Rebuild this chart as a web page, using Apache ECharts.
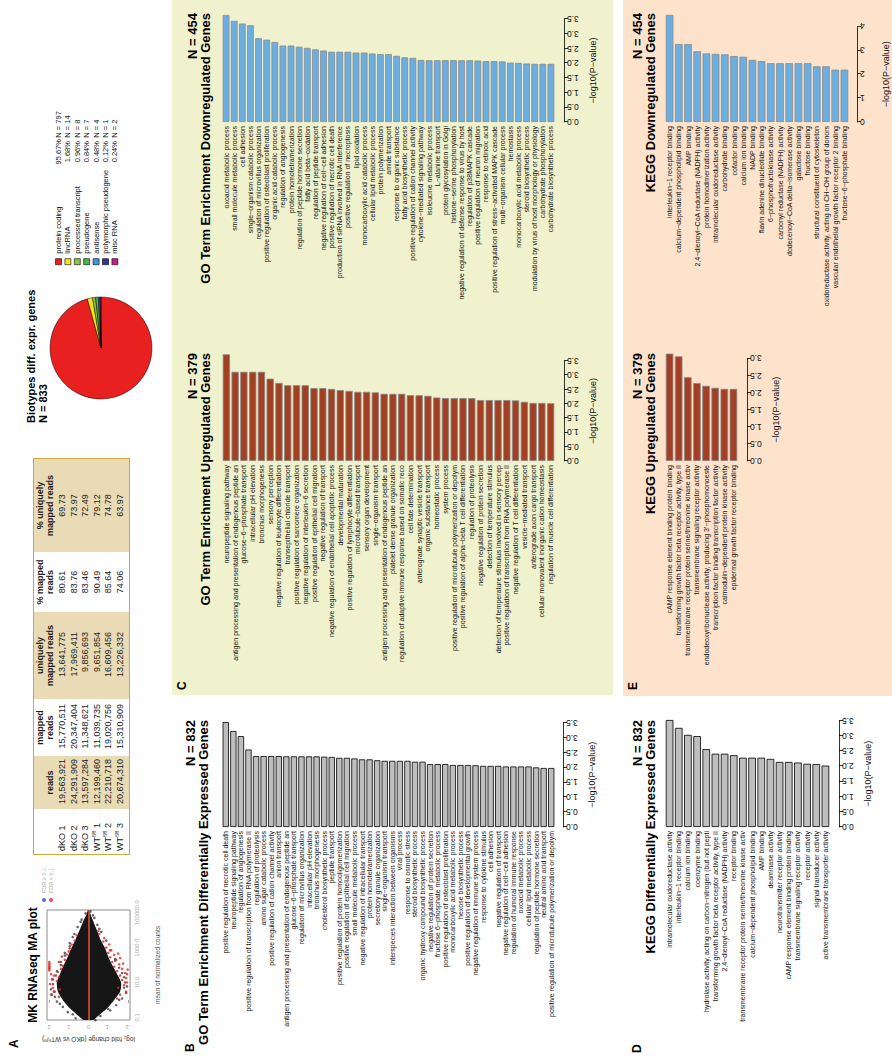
<!DOCTYPE html>
<html><head><meta charset="utf-8">
<script src="https://cdn.jsdelivr.net/npm/echarts@6/dist/echarts.min.js"></script>
<style>
html,body{margin:0;padding:0;background:#fff;overflow:hidden;width:892px;height:1062px;}
#fig{position:absolute;left:0;top:0;width:1062px;height:892px;transform-origin:0 0;transform:translate(0px,1062px) rotate(-90deg);font-family:'Liberation Sans',Arial,Helvetica,sans-serif;background:#fff;}
#chart{position:absolute;left:0;top:0;width:1062px;height:892px;}
#tbl{position:absolute;left:207px;top:33px;border-collapse:separate;border-spacing:0;border:1.5px solid #d0a93c;font:9px 'Liberation Sans',Arial,sans-serif;color:#1a1a1a;z-index:5;}
#tbl td{padding:0;height:11.5px;line-height:11.5px;white-space:nowrap;}
#tbl th{font-weight:bold;line-height:9.5px;vertical-align:bottom;padding:2px 0 2px;text-align:center;white-space:nowrap;}
#tbl .tan{background:#e9dbb6;}
#tbl .wh{background:#fff;}
#tbl sup{font-size:5px;line-height:0;}
</style></head>
<body>
<div id="fig"><div id="chart"></div><table id="tbl"></table></div>
<script>
// ---------------- DATA ----------------
const bNames = ['positive regulation of necrotic cell death','neuropeptide signaling pathway','regulation of angiogenesis','positive regulation of transcription from RNA polymerase II','regulation of proteolysis','amino sugar catabolic process','positive regulation of cation channel activity','anion transport','antigen processing and presentation of endogenous peptide an','glucose−6−phosphate transport','regulation of microvillus organization','intracellular pH elevation','bronchus morphogenesis','cholesterol biosynthetic process','peptide transport','positive regulation of protein homooligomerization','positive regulation of epithelial cell migration','small molecule metabolic process','negative regulation of intracellular transport','protein homotetramerization','secretory granule organization','single−organism transport','interspecies interaction between organisms','viral process','response to osmotic stress','steroid biosynthetic process','organic hydroxy compound biosynthetic process','negative regulation of protein secretion','fructose 6−phosphate metabolic process','positive regulation of osteoblast proliferation','monocarboxylic acid metabolic process','hexose biosynthetic process','positive regulation of developmental growth','negative regulation of immune system process','response to cytokine stimulus','cell adhesion','negative regulation of transport','negative regulation of cell−cell adhesion','regulation of humoral immune response','oxoacid metabolic process','cellular lipid metabolic process','regulation of peptide hormone secretion','neutral amino acid transport','positive regulation of microtubule polymerization or depolym'];
const bValues = [3.52,3.22,3.05,2.60,2.38,2.38,2.38,2.38,2.37,2.37,2.37,2.37,2.37,2.36,2.35,2.32,2.32,2.30,2.27,2.27,2.24,2.22,2.22,2.22,2.22,2.19,2.19,2.11,2.11,2.11,2.08,2.08,2.08,2.07,2.05,2.05,2.05,2.03,2.03,2.03,2.03,2.00,1.98,1.98];

const cUpNames = ['neuropeptide signaling pathway','antigen processing and presentation of endogenous peptide an','glucose−6−phosphate transport','intracellular pH elevation','bronchus morphogenesis','sensory perception','negative regulation of leukocyte differentiation','transepithelial chloride transport','positive regulation of sarcomere organization','negative regulation of interleukin−6 secretion','positive regulation of epithelial cell migration','negative regulation of transport','negative regulation of endothelial cell apoptotic process','developmental maturation','positive regulation of lymphocyte differentiation','microtubule−based transport','sensory organ development','single−organism transport','antigen processing and presentation of endogenous peptide an','platelet dense granule organization','regulation of adaptive immune response based on somatic reco','cell fate determination','anterograde synaptic vesicle transport','organic substance transport','homeostatic process','system process','positive regulation of microtubule polymerization or depolym','positive regulation of alpha−beta T cell differentiation','regulation of proteolysis','negative regulation of protein secretion','detection of temperature stimulus','detection of temperature stimulus involved in sensory percep','positive regulation of transcription from RNA polymerase II','negative regulation of T cell differentiation','vesicle−mediated transport','anterograde axon cargo transport','cellular monovalent inorganic cation homeostasis','regulation of muscle cell differentiation'];
const cUpValues = [3.73,3.12,3.12,3.12,3.12,2.88,2.73,2.65,2.65,2.65,2.55,2.55,2.52,2.48,2.45,2.42,2.42,2.40,2.35,2.35,2.35,2.30,2.30,2.28,2.22,2.20,2.20,2.20,2.20,2.13,2.13,2.13,2.13,2.12,2.07,2.03,2.03,2.02];

const cDownNames = ['oxoacid metabolic process','small molecule metabolic process','cell adhesion','single−organism catabolic process','regulation of microvillus organization','positive regulation of osteoblast proliferation','organic acid catabolic process','regulation of angiogenesis','protein homotetramerization','regulation of peptide hormone secretion','fatty acid beta−oxidation','regulation of peptide transport','negative regulation of cell−cell adhesion','positive regulation of necrotic cell death','production of siRNA involved in RNA interference','positive regulation of necroptosis','lipid oxidation','monocarboxylic acid catabolic process','cellular lipid metabolic process','protein polymerization','amide transport','response to organic substance','fatty acid biosynthetic process','positive regulation of cation channel activity','cytokine−mediated signaling pathway','isoleucine metabolic process','L−alanine transport','protein glycosylation in Golgi','histone−serine phosphorylation','negative regulation of defense response to virus by host','regulation of p38MAPK cascade','positive regulation of neuron migration','response to retinoic acid','positive regulation of stress−activated MAPK cascade','multi−organism cellular process','hemostasis','monocarboxylic acid metabolic process','steroid biosynthetic process','modulation by virus of host morphology or physiology','carbohydrate phosphorylation','carbohydrate biosynthetic process'];
const cDownValues = [3.64,3.44,3.35,3.29,2.85,2.80,2.72,2.60,2.60,2.56,2.52,2.47,2.43,2.39,2.39,2.39,2.36,2.36,2.33,2.31,2.31,2.25,2.20,2.18,2.11,2.10,2.10,2.10,2.10,2.10,2.10,2.09,2.07,2.07,2.06,2.02,2.01,1.99,1.98,1.98,1.98];

const dNames = ['intramolecular oxidoreductase activity','interleukin−1 receptor binding','calcium ion binding','coenzyme binding','hydrolase activity, acting on carbon−nitrogen (but not pepti','transforming growth factor beta receptor activity, type II','2,4−dienoyl−CoA reductase (NADPH) activity','receptor binding','transmembrane receptor protein serine/threonine kinase activ','calcium−dependent phospholipid binding','AMP binding','deaminase activity','neurotransmitter receptor activity','cAMP response element binding protein binding','transmembrane signaling receptor activity','receptor activity','signal transducer activity','active transmembrane transporter activity'];
const dValues = [3.52,3.26,3.03,2.99,2.56,2.41,2.41,2.36,2.28,2.28,2.28,2.24,2.14,2.14,2.12,2.08,2.07,2.02];

const eUpNames = ['cAMP response element binding protein binding','transforming growth factor beta receptor activity, type II','transmembrane receptor protein serine/threonine kinase activ','transmembrane signaling receptor activity','endodeoxyribonuclease activity, producing 3\'−phosphomonoeste','transcription factor binding transcription factor activity','calmodulin−dependent protein kinase activity','epidermal growth factor receptor binding'];
const eUpValues = [3.14,3.06,2.45,2.28,2.20,2.14,2.11,2.11];

const eDownNames = ['interleukin−1 receptor binding','calcium−dependent phospholipid binding','AMP binding','2,4−dienoyl−CoA reductase (NADPH) activity','protein homodimerization activity','intramolecular oxidoreductase activity','carbohydrate binding','cofactor binding','calcium ion binding','NADP binding','flavin adenine dinucleotide binding','6−phosphofructokinase activity','carbonyl reductase (NADPH) activity','dodecenoyl−CoA delta−isomerase activity','galactose binding','fructose binding','structural constituent of cytoskeleton','oxidoreductase activity, acting on CH−OH group of donors','vascular endothelial growth factor receptor 2 binding','fructose−6−phosphate binding'];
const eDownValues = [4.48,3.26,3.26,2.96,2.87,2.85,2.83,2.76,2.73,2.60,2.55,2.46,2.46,2.46,2.46,2.46,2.33,2.33,2.19,2.19];

const pieNames = ['protein coding','lincRNA','processed transcript','pseudogene','antisense','polymorphic pseudogene','misc RNA'];
const pieCounts = [797,14,8,7,4,1,2];
const piePercents = ['95.67%','1.68%','0.96%','0.84%','0.48%','0.12%','0.24%'];

const tblHeaders = ['', 'reads', 'mapped<br>reads', 'uniquely<br>mapped reads', '% mapped<br>reads', '% uniquely<br>mapped reads'];
const tblGroup = ['dKO','dKO','dKO','WT','WT','WT'];
const tblRep = [1,2,3,1,2,3];
const tblReads = ['19,563,921','24,291,909','13,597,284','12,199,460','22,210,718','20,674,310'];
const tblMapped = ['15,770,511','20,347,404','11,348,621','11,039,735','19,020,756','15,310,909'];
const tblUnique = ['13,641,775','17,969,411','9,856,693','9,651,854','16,609,456','13,226,332'];
const tblPctMapped = ['80.61','83.76','83.46','90.49','85.64','74.06'];
const tblPctUnique = ['69.73','73.97','72.49','79.12','74.78','63.97'];

// MA plot: envelope of the dense (non-significant) cloud, plus scattered points
const maEnvMean  = [0.06,0.1,0.3,1,3,10,30,100,300,1000,3000,10000,30000,80000,150000];
const maEnvUpper = [0.15,0.42,0.9,1.3,1.55,1.6,1.45,1.25,1.05,0.85,0.65,0.45,0.28,0.1,0.02];
const maEnvLower = [-0.15,-0.4,-0.9,-1.3,-1.6,-1.65,-1.45,-1.2,-1.0,-0.82,-0.6,-0.42,-0.25,-0.1,-0.02];
const maBlackPts = [[0.06,0.3],[0.07,-0.35],[0.09,0.65],[0.12,-0.6],[0.15,0.8],[0.2,1.05],[0.25,-1.1],[0.3,-1.0],[0.4,1.3],[0.5,-1.4],[0.6,1.45],[0.8,1.6],[1,-1.55],[1.2,-1.7],[1.5,1.7],[2,1.85],[2.5,-1.9],[3,1.75],[4,1.9],[5,-1.8],[6,-1.95],[8,1.8],[10,-1.85],[15,1.8],[20,-1.8],[25,1.65],[35,-1.7],[45,1.6],[70,-1.55],[100,1.4],[150,1.4],[180,-1.35],[220,-1.35],[350,1.2],[500,1.2],[700,-1.1],[1200,0.95],[1800,0.95],[2500,-0.9],[4000,0.8],[6000,0.72],[8000,-0.65],[12000,-0.55],[15000,0.55],[20000,-0.45],[30000,0.4],[40000,0.35],[50000,-0.3],[70000,-0.22],[90000,0.15],[120000,-0.1],[160000,0.04]];
const maRedPts = [[1.5,1.5],[2,1.9],[3,1.7],[4,1.45],[5,1.8],[8,1.95],[12,1.6],[15,1.85],[20,1.5],[25,1.75],[30,1.9],[40,1.55],[50,1.98],[60,1.98],[70,1.98],[80,1.98],[100,1.98],[120,1.98],[150,1.98],[60,1.4],[90,1.3],[150,1.5],[200,1.2],[300,1.35],[400,1.1],[600,1.0],[900,0.95],[1500,0.85],[2500,0.7],[5000,0.6],
  [1.2,-1.45],[2,-1.6],[3,-1.9],[5,-1.5],[7,-1.8],[10,-1.95],[14,-1.7],[18,-1.9],[25,-1.6],[30,-1.95],[35,-1.85],[45,-1.45],[55,-1.98],[60,-1.7],[80,-1.3],[110,-1.55],[120,-1.75],[150,-1.2],[200,-1.4],[250,-1.6],[280,-1.1],[380,-1.3],[450,-1.5],[500,-1.0],[700,-1.15],[1000,-0.9],[1500,-1.05],[2200,-0.75],[3500,-0.8],[6000,-0.55],[9000,-0.5]];
const maXTicks = [-1,1,3,5];
const maYTicks = [-2,-1,0,1,2];

// ---------------- STYLE / LAYOUT ----------------
const FONT = "'Liberation Sans', Arial, Helvetica, sans-serif";
const pieColors = ['#e8201f','#f6e31a','#8cc63f','#4fb54a','#3d9ad8','#2b3b91','#c4208c'];
const grids=[], xAxes=[], yAxes=[], series=[], graphics=[];

function txt(x,y,text,size,bold,align,color){
  graphics.push({type:'text', x:x, y:y, z:50, silent:true,
    style:{text:text, font:(bold?'bold ':'')+size+'px '+FONT, fill:color||'#000', align:align||'left', verticalAlign:'middle'}});
}

function barPanel(p){
  const vmax = Math.max(...p.values);
  grids.push({left:p.baseX, top:p.top, width:vmax*p.unit, height:p.bottom-p.top});
  let gi = grids.length-1;
  xAxes.push({gridIndex:gi, type:'value', min:0, max:vmax, show:false, splitLine:{show:false}});
  yAxes.push({gridIndex:gi, type:'category', data:p.names, inverse:true,
    axisLine:{show:false}, axisTick:{show:false}, splitLine:{show:false},
    axisLabel:{interval:0, fontSize:7, fontFamily:FONT, color:'#111', margin:4}});
  series.push({type:'bar', xAxisIndex:xAxes.length-1, yAxisIndex:yAxes.length-1, data:p.values,
    barCategoryGap:'17%', silent:true,
    itemStyle:{color:p.color, borderColor:p.border, borderWidth:0.8}});
  // value axis drawn only over the tick range (as in R)
  grids.push({left:p.baseX, top:p.axisY-1, width:p.axisMax*p.unit, height:1});
  gi = grids.length-1;
  xAxes.push({gridIndex:gi, type:'value', min:0, max:p.axisMax, interval:p.step, position:'bottom',
    axisLine:{show:true, lineStyle:{color:'#000', width:0.8}},
    axisTick:{show:true, length:4, lineStyle:{color:'#000', width:0.8}},
    splitLine:{show:false},
    axisLabel:{rotate:90, fontSize:8.5, fontFamily:FONT, color:'#111', margin:3, formatter:v=>v.toFixed(p.dec)},
    name:'−log10(P−value)', nameLocation:'middle', nameGap:24,
    nameTextStyle:{fontSize:9, fontFamily:FONT, color:'#111'}});
  yAxes.push({gridIndex:gi, type:'value', show:false});
  txt(p.titleRight, p.titleY, p.nLabel, 13, true, 'right');
  txt(p.titleRight, p.titleY+13, p.title, 13, true, 'right');
}

// panel backgrounds
graphics.push({type:'rect', z:-10, silent:true, shape:{x:367,y:172,width:695,height:441}, style:{fill:'#eff2cd'}});
graphics.push({type:'rect', z:-10, silent:true, shape:{x:366,y:623,width:696,height:269}, style:{fill:'#fde3cc'}});

const GRAY='#bebebe', BROWN='#a23f24', BLUE='#6aaee2';
barPanel({names:bNames, values:bValues, baseX:235, unit:29.8, top:222, bottom:555, axisY:563, axisMax:3.5, step:0.5, dec:1,
  color:GRAY, border:'#000', titleRight:342, titleY:190, nLabel:'N = 832', title:'GO Term Enrichment Differentially Expressed Genes'});
barPanel({names:dNames, values:dValues, baseX:235, unit:30.4, top:665, bottom:830, axisY:839, axisMax:3.5, step:0.5, dec:1,
  color:GRAY, border:'#000', titleRight:342, titleY:637, nLabel:'N = 832', title:'KEGG Differentially Expressed Genes'});
barPanel({names:cUpNames, values:cUpValues, baseX:601, unit:28.6, top:222, bottom:555, axisY:564, axisMax:3.5, step:0.5, dec:1,
  color:BROWN, border:'#8a8a8a', titleRight:709, titleY:192, nLabel:'N = 379', title:'GO Term Enrichment Upregulated Genes'});
barPanel({names:cDownNames, values:cDownValues, baseX:940, unit:29.4, top:222, bottom:555, axisY:564, axisMax:3.5, step:0.5, dec:1,
  color:BLUE, border:'#8a8a8a', titleRight:1049, titleY:192, nLabel:'N = 454', title:'GO Term Enrichment Downregulated Genes'});
barPanel({names:eUpNames, values:eUpValues, baseX:601, unit:34.2, top:665, bottom:738, axisY:747, axisMax:3.0, step:0.5, dec:1,
  color:BROWN, border:'#8a8a8a', titleRight:709, titleY:637, nLabel:'N = 379', title:'KEGG Upregulated Genes'});
barPanel({names:eDownNames, values:eDownValues, baseX:940, unit:23.9, top:665, bottom:849, axisY:857, axisMax:4, step:1, dec:0,
  color:BLUE, border:'#8a8a8a', titleRight:1049, titleY:637, nLabel:'N = 454', title:'KEGG Downregulated Genes'});

// panel letters
txt(14,14,'A',12,true); txt(10,190,'B',12,true); txt(372,182,'C',12,true); txt(9,637,'D',12,true); txt(372,633,'E',12,true);

// ---- MA plot ----
grids.push({left:42, top:47, width:110, height:83, show:true, borderColor:'#8c8c8c', borderWidth:1, backgroundColor:'#fff'});
const maG = grids.length-1;
xAxes.push({gridIndex:maG, type:'value', min:-1.15, max:5.15, splitLine:{show:false},
  axisLine:{show:false}, axisTick:{show:true, customValues:maXTicks, length:3, lineStyle:{color:'#aaa'}},
  axisLabel:{customValues:maXTicks, fontSize:6, color:'#aaa', fontFamily:FONT, margin:4, formatter:v=>Math.pow(10,v).toFixed(1)},
  name:'mean of normalized counts', nameLocation:'middle', nameGap:24, nameTextStyle:{fontSize:6.5, color:'#555', fontFamily:FONT}});
yAxes.push({gridIndex:maG, type:'value', min:-2.1, max:2.1, splitLine:{show:false},
  axisLine:{show:false}, axisTick:{show:true, customValues:maYTicks, length:3, lineStyle:{color:'#aaa'}},
  axisLabel:{customValues:maYTicks, rotate:90, fontSize:6, color:'#aaa', fontFamily:FONT, margin:4},
  name:'log₂ fold change (dKO vs WTᶠˡ/ᶠˡ)', nameLocation:'middle', nameGap:16, nameRotate:90,
  nameTextStyle:{fontSize:6.5, color:'#333', fontFamily:FONT}});
const maXi = xAxes.length-1, maYi = yAxes.length-1;
const envData = maEnvMean.map((m,i)=>[Math.log10(m), maEnvUpper[i], maEnvLower[i]]);
series.push({type:'custom', name:'FDR ≥ 0.1', xAxisIndex:maXi, yAxisIndex:maYi, data:envData, silent:true,
  encode:{x:0, y:[1,2]}, clip:true,
  renderItem:(params, api)=>{
    if (params.dataIndex !== 0) return null;
    const up = envData.map(d=>api.coord([d[0], d[1]]));
    const lo = envData.map(d=>api.coord([d[0], d[2]])).reverse();
    return {type:'polygon', shape:{points:up.concat(lo), smooth:0.25}, style:{fill:'#161616'}};
  }});
series.push({type:'scatter', name:'FDR ≥ 0.1', xAxisIndex:maXi, yAxisIndex:maYi, silent:true, symbolSize:2.6,
  data:maBlackPts.map(p=>[Math.log10(p[0]), p[1]]), itemStyle:{color:'#222', opacity:0.7}});
series.push({type:'scatter', name:'FDR < 0.1', xAxisIndex:maXi, yAxisIndex:maYi, silent:true, symbolSize:2.6,
  data:maRedPts.map(p=>[Math.log10(p[0]), p[1]]), itemStyle:{color:'#e2231f', opacity:0.8},
  markLine:{silent:true, symbol:'none', label:{show:false}, lineStyle:{color:'#e8503a', width:1.8, type:'solid', opacity:0.85}, data:[{yAxis:0}]}});
txt(97,33,'MK RNAseq MA plot',12,true,'center');

// ---- pie ----
series.push({type:'pie', center:[714,101], radius:51, startAngle:0, clockwise:true, silent:true,
  label:{show:false}, labelLine:{show:false}, minAngle:0,
  itemStyle:{borderColor:'#000', borderWidth:0.5},
  data:pieNames.map((n,i)=>({name:n, value:pieCounts[i], itemStyle:{color:pieColors[i]}}))});
txt(639,31,'Biotypes diff. expr. genes',11,true);
txt(639,43,'N = 833',11,true);

const option = {
  animation:false,
  grid:grids, xAxis:xAxes, yAxis:yAxes, series:series,
  graphic:{elements:graphics},
  legend:[{
    data:pieNames, orient:'vertical', left:797, top:54, padding:0, itemGap:0.4, itemWidth:6, itemHeight:6, icon:'rect', selectedMode:false,
    itemStyle:{borderColor:'#000', borderWidth:0.6},
    formatter:(name)=>{const i=pieNames.indexOf(name); return '{a|'+name+'}{b|'+piePercents[i]+'}{c| N = '+pieCounts[i]+'}';},
    textStyle:{fontSize:7.5, fontFamily:FONT, color:'#111', lineHeight:9,
      rich:{a:{width:90, fontSize:7.5, fontFamily:FONT}, b:{width:24, align:'right', fontSize:7.5, fontFamily:FONT}, c:{fontSize:7.5, fontFamily:FONT}}}
  },{
    data:['FDR ≥ 0.1','FDR < 0.1'], orient:'vertical', left:160, top:41, padding:0, itemGap:1, itemWidth:4, itemHeight:4, icon:'circle', selectedMode:false,
    textStyle:{fontSize:5.5, color:'#aaa', fontFamily:FONT}
  }]
};

const chart = echarts.init(document.getElementById('chart'), null, {renderer:'svg', width:1062, height:892});
chart.setOption(option);

// ---- table ----
const tanCols = [false,true,false,true,false,true];
const colW = [45,53,57,87,60,93];
const aligns = ['left','right','right','right','center','center'];
const padR = [0,3,5,20,0,0];
let html = '<tr>' + tblHeaders.map((h,i)=>'<th class="'+(tanCols[i]?'tan':'wh')+'" style="width:'+colW[i]+'px">'+h+'</th>').join('') + '</tr>';
for (let r=0;r<tblGroup.length;r++){
  const name = tblGroup[r]==='WT' ? 'WT<sup>fl/fl</sup> '+tblRep[r] : tblGroup[r]+' '+tblRep[r];
  const cells = [name, tblReads[r], tblMapped[r], tblUnique[r], tblPctMapped[r], tblPctUnique[r]];
  html += '<tr>' + cells.map((c,i)=>'<td class="'+(tanCols[i]?'tan':'wh')+'" style="text-align:'+aligns[i]+';padding-left:'+(i===0?3:0)+'px;padding-right:'+padR[i]+'px">'+c+'</td>').join('') + '</tr>';
}
html += '<tr>' + colW.map((w,i)=>'<td class="'+(tanCols[i]?'tan':'wh')+'" style="height:3px;line-height:3px"></td>').join('') + '</tr>';
document.getElementById('tbl').innerHTML = html;
</script>
</body></html>
